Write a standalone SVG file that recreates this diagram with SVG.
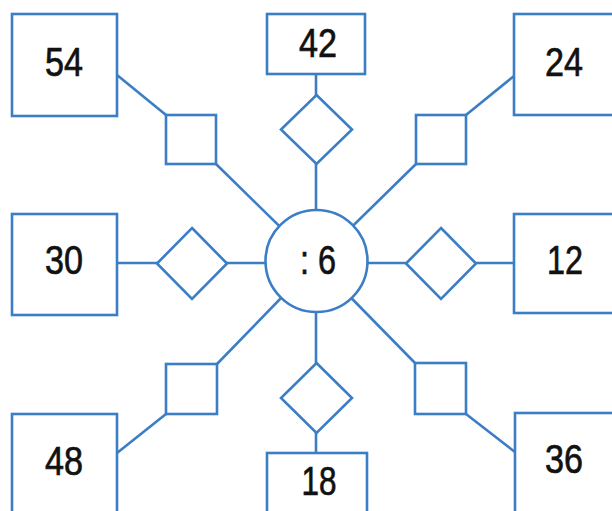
<svg xmlns="http://www.w3.org/2000/svg" width="612" height="511" viewBox="0 0 612 511">
<style>
.s{fill:#fff;stroke:#3b7ec6;stroke-width:2.6}
.c{fill:none;stroke:#3b7ec6;stroke-width:2.6}
.t{font-family:"Liberation Sans",Arial,sans-serif;font-size:40px;fill:#111;stroke:#111;stroke-width:0.7;text-anchor:middle}
</style>
<rect width="612" height="511" fill="#fff"/>
<g id="connectors" class="c">
<line x1="117" y1="75" x2="166" y2="115"/>
<line x1="216" y1="164" x2="316" y2="262"/>
<line x1="316" y1="74" x2="316" y2="262"/>
<line x1="514" y1="76" x2="466" y2="115"/>
<line x1="416" y1="164" x2="316" y2="262"/>
<line x1="117" y1="263" x2="316" y2="263"/>
<line x1="316" y1="263" x2="514" y2="263"/>
<line x1="316" y1="262" x2="217" y2="364"/>
<line x1="166" y1="414" x2="117" y2="453"/>
<line x1="316" y1="262" x2="316" y2="453"/>
<line x1="316" y1="262" x2="415" y2="363"/>
<line x1="466" y1="414" x2="515" y2="452"/>
</g>
<g id="center"><circle class="s" cx="316.5" cy="261" r="51"/><text class="t" x="318" y="274" textLength="36" lengthAdjust="spacingAndGlyphs">: 6</text></g>
<g id="n54"><rect class="s" x="12" y="14" width="105" height="102"/><text class="t" x="64" y="76" textLength="38" lengthAdjust="spacingAndGlyphs">54</text></g>
<g id="n42"><rect class="s" x="267" y="14" width="98" height="60"/><text class="t" x="318" y="57" textLength="38" lengthAdjust="spacingAndGlyphs">42</text></g>
<g id="n24"><rect class="s" x="514" y="14" width="105" height="101"/><text class="t" x="564" y="76" textLength="38" lengthAdjust="spacingAndGlyphs">24</text></g>
<g id="n30"><rect class="s" x="12" y="214" width="105" height="101"/><text class="t" x="64" y="274" textLength="38" lengthAdjust="spacingAndGlyphs">30</text></g>
<g id="n12"><rect class="s" x="514" y="214" width="105" height="99"/><text class="t" x="565" y="274" textLength="36" lengthAdjust="spacingAndGlyphs">12</text></g>
<g id="n48"><rect class="s" x="12" y="414" width="105" height="104"/><text class="t" x="64" y="475" textLength="38" lengthAdjust="spacingAndGlyphs">48</text></g>
<g id="n18"><rect class="s" x="267" y="453" width="100" height="65"/><text class="t" x="319" y="495" textLength="35" lengthAdjust="spacingAndGlyphs">18</text></g>
<g id="n36"><rect class="s" x="515" y="413" width="105" height="105"/><text class="t" x="564" y="473" textLength="38" lengthAdjust="spacingAndGlyphs">36</text></g>
<g id="sq-ul"><rect class="s" x="166" y="115" width="50" height="49"/></g>
<g id="sq-ur"><rect class="s" x="416" y="115" width="50" height="49"/></g>
<g id="sq-ll"><rect class="s" x="166" y="364" width="51" height="50"/></g>
<g id="sq-lr"><rect class="s" x="415" y="363" width="51" height="51"/></g>
<g id="d-top"><polygon class="s" points="316.5,95 352,129.5 316.5,164 281,129.5"/></g>
<g id="d-left"><polygon class="s" points="192,228 227,263.5 192,299 157,263.5"/></g>
<g id="d-right"><polygon class="s" points="441,228 476,263.5 441,299 406,263.5"/></g>
<g id="d-bottom"><polygon class="s" points="316.5,363 352,398 316.5,433 281,398"/></g>
</svg>
